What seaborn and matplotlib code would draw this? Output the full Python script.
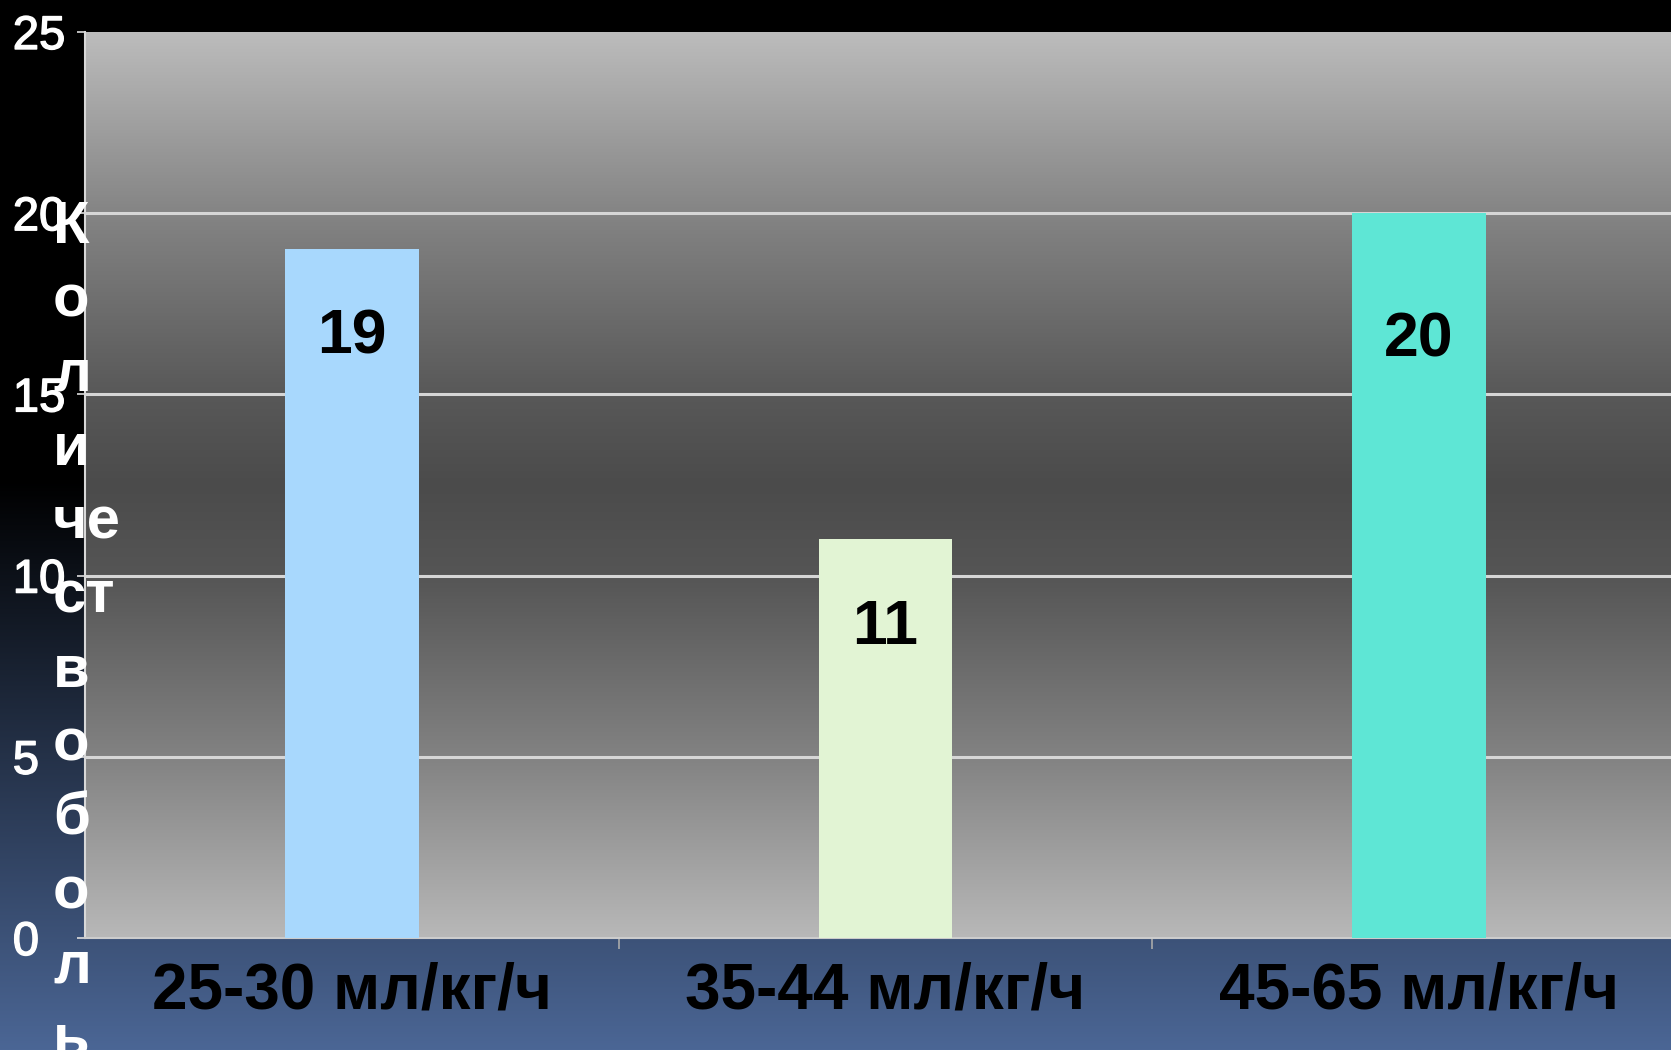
import numpy as np
import pandas as pd
import matplotlib
matplotlib.use("Agg")
import matplotlib.pyplot as plt
import matplotlib.patheffects as pe
import seaborn as sns

# ---- data ----
categories = ["25-30 мл/кг/ч", "35-44 мл/кг/ч", "45-65 мл/кг/ч"]
values = [19, 11, 20]
bar_colors = ["#a8d8fd", "#e2f4d4", "#5ee6d5"]
yticks = [0, 5, 10, 15, 20, 25]
ylabel_lines = ["К", "о", "л", "и", "че", "ст", "в", "о", "б", "о", "л", "ь", "н", "ы", "х"]
label_offsets = [2.42, 2.42, 3.5]

sns.set_style("white")
plt.rcParams["font.family"] = ["Liberation Sans", "DejaVu Sans"]

W, H = 1671, 1050
fig = plt.figure(figsize=(W / 100, H / 100), dpi=100)

# figure background gradient: black at top, blue at bottom
bg = fig.add_axes([0, 0, 1, 1], zorder=-10)
ys = np.linspace(0, 1, 400)  # 0 = bottom, 1 = top
top_black = 1 - 480 / H
frac = np.clip((top_black - ys) / top_black, 0, 1)
col_bottom = np.array([0x4b, 0x66, 0x95]) / 255.0
grad = frac[:, None] * col_bottom[None, :]
bg.imshow(grad[:, None, :], extent=[0, 1, 0, 1], origin="lower", aspect="auto")
bg.set_axis_off()

# main axes
left = 85 / W
bottom = (H - 938) / H
height = (938 - 32) / H
width = (1686 - 85) / W
ax = fig.add_axes([left, bottom, width, height])
ax.patch.set_alpha(0)

# plot-area gray gradient
gv = [25, 20, 15, 12.5, 10, 5, 0]
gc = [0xbc, 0x84, 0x58, 0x4b, 0x55, 0x82, 0xb8]
yy = np.linspace(0, 25, 500)
gray = np.interp(yy, gv[::-1], gc[::-1]) / 255.0
img = np.repeat(gray[:, None, None], 3, axis=2)
ax.imshow(img, extent=[-0.5, 2.5, 0, 25], origin="lower", aspect="auto", zorder=0)

df = pd.DataFrame({"cat": categories, "val": values})
sns.barplot(data=df, x="cat", y="val", hue="cat", palette=bar_colors,
            width=0.25, ax=ax, legend=False, saturation=1, zorder=3,
            linewidth=0, edgecolor="none")

ax.set_xlim(-0.5, 2.5)
ax.set_ylim(0, 25)
ax.set_yticks(yticks)
ax.set_yticklabels([str(t) for t in yticks])
for t in yticks[1:-1]:
    ax.axhline(t, color="#d6d6d6", lw=2.2, zorder=2)

for i, (v, off) in enumerate(zip(values, label_offsets)):
    ax.text(i, v - off, str(v), ha="center", va="center", fontsize=45,
            fontweight="bold", color="black", zorder=5)

ax.set_xlabel("")
ax.set_ylabel("")
ax.tick_params(axis="y", colors="#dddddd", labelcolor="white", labelsize=34,
               length=6, width=1.2, direction="out", pad=46, left=True)
for lab in ax.get_yticklabels():
    lab.set_horizontalalignment("left")
    lab.set_path_effects([pe.withStroke(linewidth=1.0, foreground="white")])
ax.tick_params(axis="x", which="major", length=0, labelsize=46, labelcolor="black", pad=17)
for lab in ax.get_xticklabels():
    lab.set_fontweight("bold")
ax.set_xticks([0.5, 1.5], minor=True)
ax.tick_params(axis="x", which="minor", length=8, width=1.2, color="#aaaaaa", direction="out", bottom=True)

for s in ["top", "right"]:
    ax.spines[s].set_visible(False)
ax.spines["left"].set_color("#d8d8d8")
ax.spines["left"].set_linewidth(1.5)
ax.spines["bottom"].set_color("#cccccc")
ax.spines["bottom"].set_linewidth(1.5)

# stacked vertical axis title
fig.text(53 / W, 1 - 200 / H, "\n".join(ylabel_lines), ha="left", va="top",
         fontsize=43, fontweight="bold", color="white", linespacing=1.44, zorder=20)

fig.savefig("out.png", dpi=100)
